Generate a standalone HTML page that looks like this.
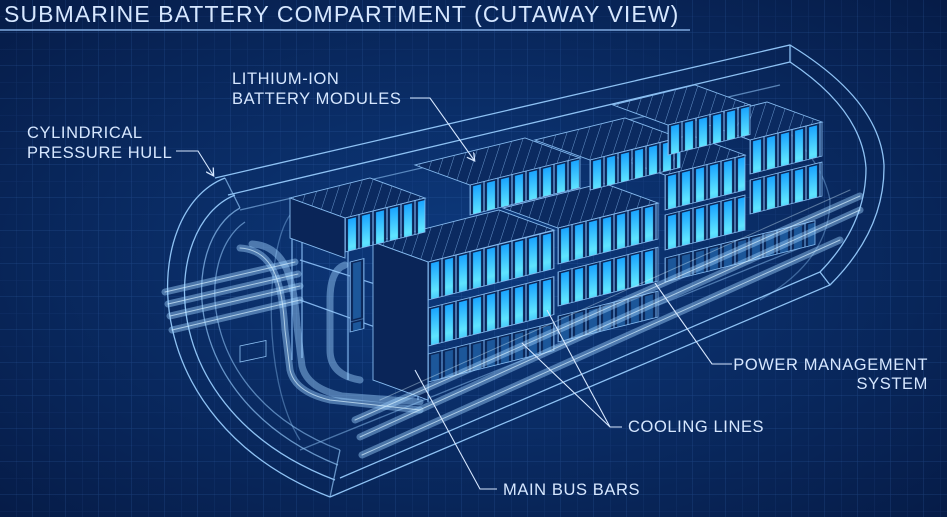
<!DOCTYPE html>
<html><head><meta charset="utf-8"><style>
html,body{margin:0;padding:0;background:#08275c;}
svg{display:block}
text{font-family:"Liberation Sans",sans-serif;fill:#d6e7ff;}
</style></head><body>
<svg width="947" height="517" viewBox="0 0 947 517" xmlns="http://www.w3.org/2000/svg">
<defs>
<radialGradient id="bg" cx="50%" cy="50%" r="70%">
<stop offset="0" stop-color="#0d3a7e"/><stop offset="1" stop-color="#061c48"/></radialGradient>
<pattern id="grid" width="33" height="33" patternUnits="userSpaceOnUse">
<path d="M33 0V33H0" fill="none" stroke="#3a6cb8" stroke-opacity="0.35" stroke-width="1"/>
<path d="M16.5 0V33M0 16.5H33" fill="none" stroke="#3a6cb8" stroke-opacity="0.15" stroke-width="0.6"/></pattern>
<linearGradient id="cg" x1="0" y1="0" x2="0" y2="1">
<stop offset="0" stop-color="#1aa4ff"/><stop offset="0.5" stop-color="#5fe4ff"/><stop offset="1" stop-color="#1690f0"/></linearGradient>
<pattern id="cells" width="14" height="60" patternUnits="userSpaceOnUse">
<rect x="0.5" y="0" width="13" height="60" fill="#0a2658" stroke="#6fa6e0" stroke-width="0.6"/>
<rect x="3" y="2" width="8" height="56" fill="url(#cg)"/></pattern>
<pattern id="cellsd" width="14" height="60" patternUnits="userSpaceOnUse">
<rect x="0.5" y="0" width="13" height="60" fill="#0a2658" stroke="#5e94d0" stroke-width="0.6"/>
<rect x="3" y="2" width="8" height="56" fill="#2a7fd0" opacity="0.55"/></pattern>
<pattern id="slats" width="10" height="10" patternUnits="userSpaceOnUse" patternTransform="rotate(18)">
<rect width="10" height="10" fill="#0b2a60"/><path d="M0 0V10" stroke="#7fb0e8" stroke-width="0.8"/></pattern>
<marker id="ar" markerWidth="8" markerHeight="8" refX="6" refY="4" orient="auto"><path d="M0 0L7 4L0 8" fill="none" stroke="#d6e7ff" stroke-width="1.2"/></marker>
</defs>
<rect width="947" height="517" fill="url(#bg)"/>
<rect width="947" height="517" fill="url(#grid)"/>

<text x="4" y="22" font-size="23" letter-spacing="1.1">SUBMARINE BATTERY COMPARTMENT (CUTAWAY VIEW)</text>
<line x1="0" y1="30" x2="690" y2="30" stroke="#7fa9e0" stroke-width="1.5"/>

<g fill="none" stroke="#8ec2f4" stroke-width="1.3">
<path d="M215 178 L790 45 Q880 100 884 165 Q885 230 830 285 L330 497"/>
<path d="M228 195 L790 62 Q862 110 866 168 Q866 225 820 272 L340 478"/>
<path d="M240 210 L780 85" stroke-opacity="0.6"/>
<path d="M300 450 L800 248" stroke-opacity="0.5"/>
<path d="M790 62 L790 45 M820 272 L830 285"/>
<path d="M760 110 Q820 150 830 200 Q830 260 760 300" stroke-opacity="0.4"/>
<path d="M225 178 C140 210 130 420 330 497"/>
<path d="M235 195 C160 225 150 410 335 480"/>
<path d="M240 208 C180 240 175 400 338 465" stroke-opacity="0.7"/>
<path d="M245 222 C195 255 195 395 340 450" stroke-opacity="0.6"/>
<path d="M225 178 L240 208 M330 497 L340 450" stroke-opacity="0.7"/>
<path d="M290 215 C265 250 262 380 300 440" stroke-opacity="0.4"/>
</g>
<rect x="240" y="345" width="26" height="16" fill="none" stroke="#8ec2f4" stroke-width="0.8" transform="skewY(-12) translate(0,52)"/>

<g fill="none" stroke="#7fb2ea" stroke-width="1.2">
<path d="M292 222 V360 M302 218 V358 M348 236 V380 M418 255 V400 M428 258 V402 M300 260 L425 300 M300 300 L425 345"/>
</g>

<g stroke="#86bbf0" stroke-width="0.9">
<polygon points="345,218 425,198 370,178 290,198" fill="url(#slats)"/>
<polygon points="290,198 345,218 345,258 290,238" fill="#0a2558"/>
<polygon points="470,185 580,158 525,138 415,165" fill="url(#slats)"/>
<polygon points="590,160 680,138 625,118 535,140" fill="url(#slats)"/>
<polygon points="668,125 750,105 695,85 613,105" fill="url(#slats)"/>
<polygon points="750,140 822,122 767,102 695,120" fill="url(#slats)"/>
<polygon points="665,175 745,155 690,135 610,155" fill="url(#slats)"/>
<polygon points="558,228 658,203 603,183 503,208" fill="url(#slats)"/>
<polygon points="428,262 554,230 499,210 373,242" fill="url(#slats)"/>
<polygon points="373,242 428,262 428,400 373,380" fill="#0a2558"/>
</g>
<g stroke="#86bbf0" stroke-width="0.8">
<g transform="translate(345,218) skewY(-14)"><rect width="80" height="34" fill="url(#cells)"/></g>
<g transform="translate(470,185) skewY(-14)"><rect width="110" height="30" fill="url(#cells)"/></g>
<g transform="translate(590,160) skewY(-14)"><rect width="90" height="30" fill="url(#cells)"/></g>
<g transform="translate(668,125) skewY(-14)"><rect width="82" height="30" fill="url(#cells)"/></g>
<g transform="translate(750,140) skewY(-14)"><rect width="72" height="34" fill="url(#cells)"/></g>
<g transform="translate(750,180) skewY(-14)"><rect width="72" height="34" fill="url(#cells)"/></g>
<g transform="translate(665,175) skewY(-14)"><rect width="80" height="35" fill="url(#cells)"/></g>
<g transform="translate(665,215) skewY(-14)"><rect width="80" height="35" fill="url(#cells)"/></g>
<g transform="translate(558,228) skewY(-14)"><rect width="100" height="36" fill="url(#cells)"/></g>
<g transform="translate(558,272) skewY(-14)"><rect width="100" height="34" fill="url(#cells)"/></g>
<g transform="translate(558,316) skewY(-14)"><rect width="100" height="26" fill="url(#cellsd)"/></g>
<g transform="translate(665,258) skewY(-14)"><rect width="150" height="24" fill="url(#cellsd)"/></g>
<g transform="translate(428,262) skewY(-14)"><rect width="126" height="38" fill="url(#cells)"/></g>
<g transform="translate(428,308) skewY(-14)"><rect width="126" height="38" fill="url(#cells)"/></g>
<g transform="translate(428,354) skewY(-14)"><rect width="126" height="28" fill="url(#cellsd)"/></g>
<g transform="translate(350,262) skewY(-14)"><rect width="14" height="70" fill="url(#cellsd)"/></g>
</g>

<g fill="none" stroke-linecap="round">
<g stroke="#9fd2ff" stroke-opacity="0.45" stroke-width="7">
<path d="M240 248 C275 250 282 285 285 330 L290 370 Q295 392 330 400 L420 410"/>
<path d="M252 244 C287 246 294 281 297 326 L302 366 Q307 388 342 396 L420 402"/>
<path d="M345 265 Q330 270 330 300 V350 Q330 375 360 380"/>
<path d="M165 292 L295 262"/><path d="M168 304 L298 274"/><path d="M170 316 L300 286"/><path d="M172 330 L300 300"/>
<path d="M355 420 L860 196"/><path d="M360 437 L860 210"/><path d="M362 455 L840 240"/>
</g>
<g stroke="#d4efff" stroke-opacity="0.7" stroke-width="1">
<path d="M240 248 C275 250 282 285 285 330 L290 370 Q295 392 330 400 L420 410"/>
<path d="M165 292 L295 262"/><path d="M168 304 L298 274"/><path d="M170 316 L300 286"/><path d="M172 330 L300 300"/>
<path d="M355 420 L860 196"/><path d="M360 437 L860 210"/><path d="M362 455 L840 240"/>
<path d="M380 400 L850 190" stroke-opacity="0.4"/>
</g>
</g>

<g font-size="16.5" letter-spacing="0.6">
<text x="27" y="138">CYLINDRICAL</text>
<text x="27" y="158">PRESSURE HULL</text>
<text x="232" y="84">LITHIUM-ION</text>
<text x="232" y="104">BATTERY MODULES</text>
<text x="928" y="370" text-anchor="end">POWER MANAGEMENT</text>
<text x="928" y="389" text-anchor="end">SYSTEM</text>
<text x="628" y="432">COOLING LINES</text>
<text x="503" y="495">MAIN BUS BARS</text>
</g>
<g fill="none" stroke="#d6e7ff" stroke-width="1.1">
<path d="M176 151 H198 L213 175" marker-end="url(#ar)"/>
<path d="M410 98 H430 L474 160" marker-end="url(#ar)"/>
<path d="M732 364 H712 L655 283"/>
<path d="M622 427 H610 L522 343 M610 427 L547 310"/>
<path d="M497 489 H480 L415 370"/>
</g>
</svg>
</body></html>
